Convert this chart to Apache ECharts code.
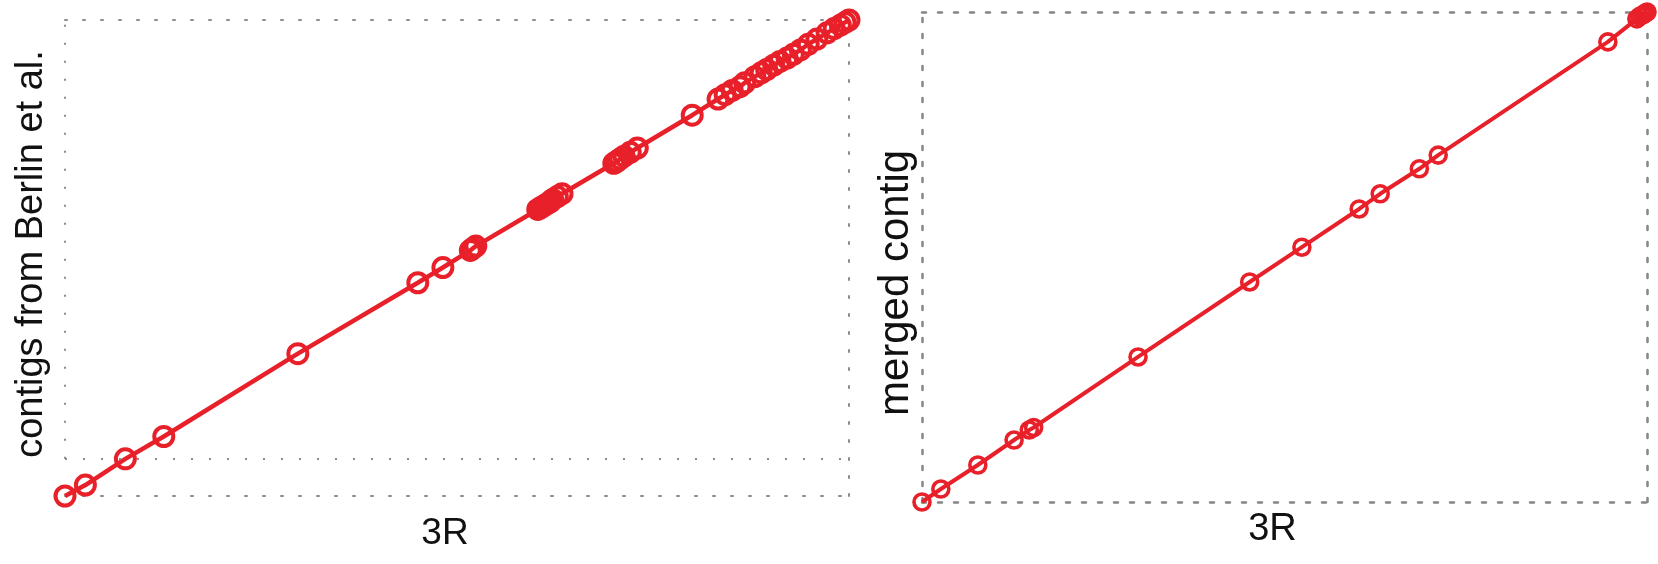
<!DOCTYPE html>
<html>
<head>
<meta charset="utf-8">
<script src="https://cdn.jsdelivr.net/npm/echarts@6/dist/echarts.min.js"></script>
<style>
html,body{margin:0;padding:0;background:#fff;}
#chart{width:1658px;height:564px;}
</style>
</head>
<body>
<div id="chart"></div>
<script>
// Left panel: 3R vs contigs from Berlin et al.
var leftX = [0, 2.6, 7.7, 12.6, 29.7, 45.0, 48.2, 51.7, 52.0, 52.4, 60.3, 60.7, 61.1, 61.5, 61.9, 62.2, 62.8, 63.4, 70.0, 70.4, 70.8, 71.3, 72.1, 73.0, 80.0, 83.3, 84.2, 85.1, 86.1, 86.7, 88.0, 88.8, 89.5, 90.4, 91.2, 92.1, 92.9, 93.8, 94.8, 95.9, 97.2, 98.1, 98.9, 99.5, 100];
var leftY = [0, 2.3, 7.8, 12.5, 29.9, 44.8, 48.0, 51.6, 52.0, 52.5, 60.2, 60.6, 61.0, 61.4, 61.8, 62.3, 62.9, 63.5, 69.9, 70.3, 70.8, 71.4, 72.2, 73.1, 80.0, 83.4, 84.3, 85.2, 86.0, 86.8, 88.1, 88.9, 89.6, 90.5, 91.3, 92.0, 92.8, 93.7, 94.9, 96.0, 97.3, 98.2, 98.9, 99.5, 100];
// Right panel: 3R vs merged contig
var rightX = [0, 2.6, 7.7, 12.7, 14.8, 15.4, 29.8, 45.2, 52.4, 60.3, 63.2, 68.6, 71.2, 94.6, 98.6, 99.0, 99.4, 99.7, 100];
var rightY = [0, 2.65, 7.55, 12.65, 14.7, 15.2, 29.6, 44.9, 52.0, 59.8, 62.9, 68.0, 70.8, 93.9, 98.6, 99.1, 99.4, 99.7, 100];
// level of the lower inner dotted line in the left panel
var leftInnerBase = 7.8;
var axisMin = 0, axisMax = 100;

var xTitle = '3R';
var leftYTitle = 'contigs from Berlin et al.';
var rightYTitle = 'merged contig';

function pairs(xs, ys){ return xs.map(function(x,i){ return [x, ys[i]]; }); }

var RED = '#e8202a';
var dotL = {color:'#8c8c8c', width:2, type:[2,16]};
var dotR = {color:'#858585', width:2.5, type:[4,12]};
var FONT = 'Liberation Sans, Arial, sans-serif';

function xax(grid, pos, ls, name, gap, fs){
  var a = {type:'value', gridIndex:grid, position:pos, min:axisMin, max:axisMax,
    axisLine:{show:true, onZero:false, lineStyle:ls}, axisTick:{show:false}, axisLabel:{show:false}, splitLine:{show:false}};
  if(name){ a.name = name; a.nameLocation='middle'; a.nameGap=gap;
    a.nameTextStyle={fontSize:fs, color:'#111', fontFamily:FONT, padding:[0,24,0,0]}; }
  return a;
}
function yax(grid, pos, ls, showLine, name, gap, fs, pad){
  var a = {type:'value', gridIndex:grid, position:pos, min:axisMin, max:axisMax,
    axisLine:{show:showLine, onZero:false, lineStyle:ls}, axisTick:{show:false}, axisLabel:{show:false}, splitLine:{show:false}};
  if(name){ a.name = name; a.nameLocation='middle'; a.nameGap=gap;
    a.nameTextStyle={fontSize:fs, color:'#111', fontFamily:FONT, padding:pad}; }
  return a;
}

var chart = echarts.init(document.getElementById('chart'));
chart.setOption({
  animation:false,
  grid:[
    {left:65, right:809, top:20, bottom:68},
    {left:922, right:11, top:12, bottom:62}
  ],
  xAxis:[
    xax(0,'bottom',dotL,xTitle,19,37),
    xax(0,'top',dotL),
    xax(1,'bottom',dotR,xTitle,9,38),
    xax(1,'top',dotR)
  ],
  yAxis:[
    yax(0,'left',dotL,false,leftYTitle,14,38,[0,0,0,8]),
    yax(0,'right',dotL,true),
    yax(1,'left',dotR,true,rightYTitle,5,42,[0,52,0,0]),
    yax(1,'right',dotR,true)
  ],
  series:[
    {type:'line', xAxisIndex:0, yAxisIndex:0, data:pairs(leftX,leftY), clip:false,
     symbol:'circle', symbolSize:19, showAllSymbol:true,
     lineStyle:{color:RED, width:4.5},
     itemStyle:{color:'rgba(0,0,0,0)', borderColor:RED, borderWidth:4},
     markLine:{silent:true, symbol:'none', label:{show:false},
       lineStyle:dotL,
       data:[
         [{coord:[axisMin,leftInnerBase]},{coord:[axisMax,leftInnerBase]}],
         [{coord:[axisMin,leftInnerBase]},{coord:[axisMin,axisMax]}]
       ]},
     z:3},
    {type:'line', xAxisIndex:2, yAxisIndex:2, data:pairs(rightX,rightY), clip:false,
     symbol:'circle', symbolSize:16, showAllSymbol:true,
     lineStyle:{color:RED, width:4},
     itemStyle:{color:'rgba(0,0,0,0)', borderColor:RED, borderWidth:3.6},
     z:3}
  ]
});
</script>
</body>
</html>
